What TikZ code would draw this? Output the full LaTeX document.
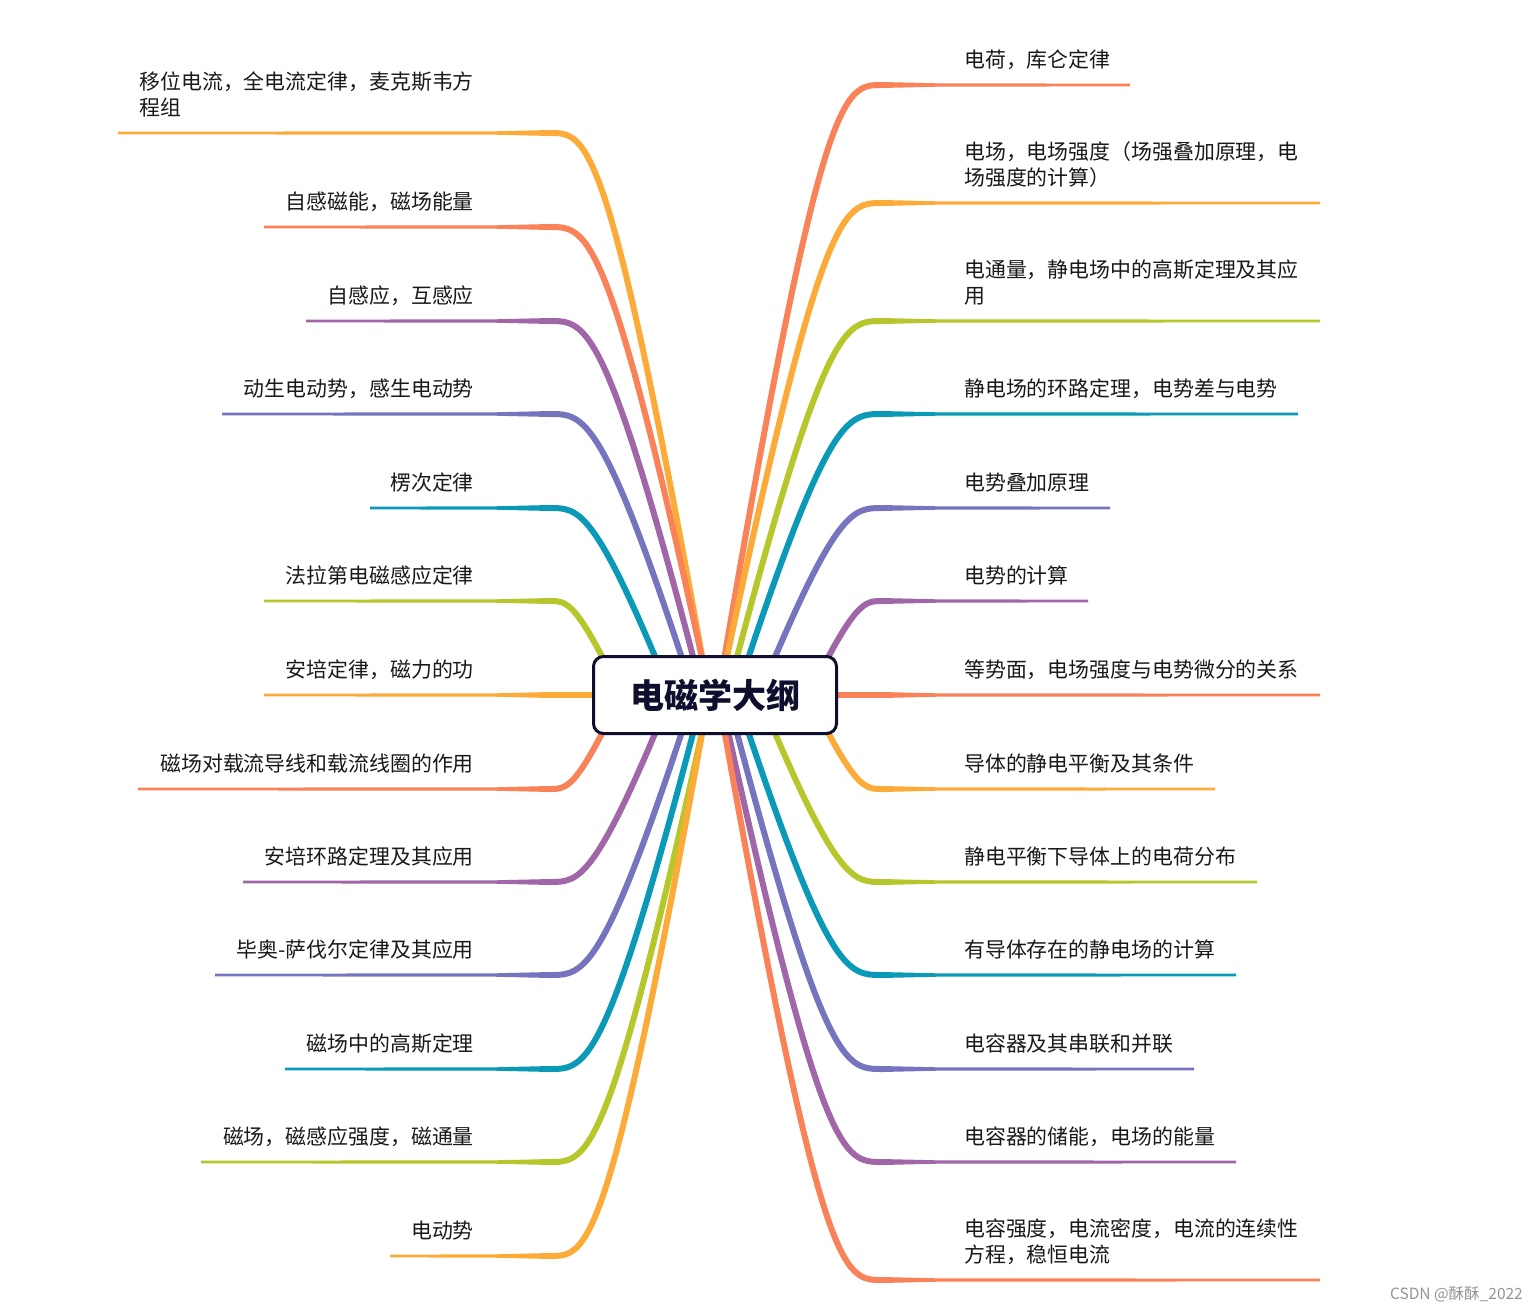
\documentclass[tikz,border=0pt]{standalone}
\usepackage{fontspec}
\setmainfont{Noto Sans CJK SC}
\usetikzlibrary{calc}
\definecolor{bcoral}{HTML}{FA8258}
\definecolor{bgold}{HTML}{FDAB38}
\definecolor{blime}{HTML}{B5C72B}
\definecolor{bteal}{HTML}{0A9AB7}
\definecolor{bviolet}{HTML}{7674BE}
\definecolor{bpurple}{HTML}{A066A8}
\definecolor{navy}{HTML}{0E0E2E}
\newcommand\mmbranch[6]{%
  \pgfmathsetmacro\bca{#3+0.63*(#5-#3)}%
  \pgfmathsetmacro\bcb{#3+0.76*(#5-#3)}%
  \pgfmathsetmacro\bxm{#5+55*sign(#6-#5)}%
  \coordinate (#1s) at (#3,695);
  \coordinate (#1k) at (#5,#4);
  \coordinate (#1e) at (#6,#4);
  \draw[#2,line width=6pt] (#1s) .. controls (\bca,#4) and (\bcb,#4) .. (#1k);
  \fill[#2] ($(#1k)+(0,-3)$) -- (\bxm,#4-1.7) -- ($(#1e)+(0,-1.35)$) -- ($(#1e)+(0,1.35)$) -- (\bxm,#4+1.7) -- ($(#1k)+(0,3)$) -- cycle;
}
\tikzset{
  lbl/.style={font=\fontsize{20.9}{26}\selectfont, text=black!90, inner sep=0pt, align=left},
  centerbox/.style={draw=navy, line width=3pt, rounded corners=10pt, fill=white,
    minimum width=243pt, minimum height=77pt, inner sep=0pt, text=navy,
    font=\fontsize{34}{40}\selectfont\bfseries}
}
\begin{document}
\begin{tikzpicture}[x=1pt,y=-1pt]
\useasboundingbox[fill=white] (0,0) rectangle (1539,1312);
% right branches
\mmbranch{R1}{bcoral}{718}{85}{882}{1130}
\mmbranch{R2}{bgold}{719}{203}{882}{1320}
\mmbranch{R3}{blime}{727}{321}{882}{1320}
\mmbranch{R4}{bteal}{736}{414}{882}{1298}
\mmbranch{R5}{bviolet}{759}{508}{882}{1110}
\mmbranch{R6}{bpurple}{809}{601}{882}{1088}
\mmbranch{R7}{bcoral}{715}{695}{882}{1320}
\mmbranch{R8}{bgold}{809}{789}{882}{1215}
\mmbranch{R9}{blime}{759}{882}{882}{1257}
\mmbranch{R10}{bteal}{736}{975}{882}{1236}
\mmbranch{R11}{bviolet}{727}{1069}{882}{1194}
\mmbranch{R12}{bpurple}{720}{1162}{882}{1236}
\mmbranch{R13}{bcoral}{718}{1280}{882}{1320}
% left branches
\mmbranch{L1}{bgold}{709}{133}{550}{118}
\mmbranch{L2}{bcoral}{710}{227}{550}{264}
\mmbranch{L3}{bpurple}{703}{321}{550}{306}
\mmbranch{L4}{bviolet}{694}{414}{550}{222}
\mmbranch{L5}{bteal}{671}{508}{550}{370}
\mmbranch{L6}{blime}{621}{601}{550}{264}
\mmbranch{L7}{bgold}{715}{695}{550}{264}
\mmbranch{L8}{bcoral}{621}{789}{550}{138}
\mmbranch{L9}{bpurple}{671}{882}{550}{243}
\mmbranch{L10}{bviolet}{694}{975}{550}{215}
\mmbranch{L11}{bteal}{703}{1069}{550}{285}
\mmbranch{L12}{blime}{710}{1162}{550}{201}
\mmbranch{L13}{bgold}{709}{1256}{550}{390}
% centre
\node[centerbox] (center) at (715,695) {电磁学大纲};
% right labels
\node[lbl,anchor=base west] (r1) at (964,67) {电荷，库仑定律};
\node[lbl,anchor=base west] (r2) at (964,185) {电场，电场强度（场强叠加原理，电\\场强度的计算）};
\node[lbl,anchor=base west] (r3) at (964,303) {电通量，静电场中的高斯定理及其应\\用};
\node[lbl,anchor=base west] (r4) at (964,396) {静电场的环路定理，电势差与电势};
\node[lbl,anchor=base west] (r5) at (964,490) {电势叠加原理};
\node[lbl,anchor=base west] (r6) at (964,583) {电势的计算};
\node[lbl,anchor=base west] (r7) at (964,677) {等势面，电场强度与电势微分的关系};
\node[lbl,anchor=base west] (r8) at (964,771) {导体的静电平衡及其条件};
\node[lbl,anchor=base west] (r9) at (964,864) {静电平衡下导体上的电荷分布};
\node[lbl,anchor=base west] (r10) at (964,957) {有导体存在的静电场的计算};
\node[lbl,anchor=base west] (r11) at (964,1051) {电容器及其串联和并联};
\node[lbl,anchor=base west] (r12) at (964,1144) {电容器的储能，电场的能量};
\node[lbl,anchor=base west] (r13) at (964,1262) {电容强度，电流密度，电流的连续性\\方程，稳恒电流};
% left labels
\node[lbl,anchor=base east] (l1) at (474,115) {移位电流，全电流定律，麦克斯韦方\\程组};
\node[lbl,anchor=base east] (l2) at (474,209) {自感磁能，磁场能量};
\node[lbl,anchor=base east] (l3) at (474,303) {自感应，互感应};
\node[lbl,anchor=base east] (l4) at (474,396) {动生电动势，感生电动势};
\node[lbl,anchor=base east] (l5) at (474,490) {楞次定律};
\node[lbl,anchor=base east] (l6) at (474,583) {法拉第电磁感应定律};
\node[lbl,anchor=base east] (l7) at (474,677) {安培定律，磁力的功};
\node[lbl,anchor=base east] (l8) at (474,771) {磁场对载流导线和载流线圈的作用};
\node[lbl,anchor=base east] (l9) at (474,864) {安培环路定理及其应用};
\node[lbl,anchor=base east] (l10) at (474,957) {毕奥-萨伐尔定律及其应用};
\node[lbl,anchor=base east] (l11) at (474,1051) {磁场中的高斯定理};
\node[lbl,anchor=base east] (l12) at (474,1144) {磁场，磁感应强度，磁通量};
\node[lbl,anchor=base east] (l13) at (474,1238) {电动势};
% watermark
\node[anchor=east, inner sep=0pt, text=black!42, font=\fontsize{15.5}{18}\selectfont] (wm) at (1523,1294) {CSDN @酥酥\_2022};
\end{tikzpicture}
\end{document}
